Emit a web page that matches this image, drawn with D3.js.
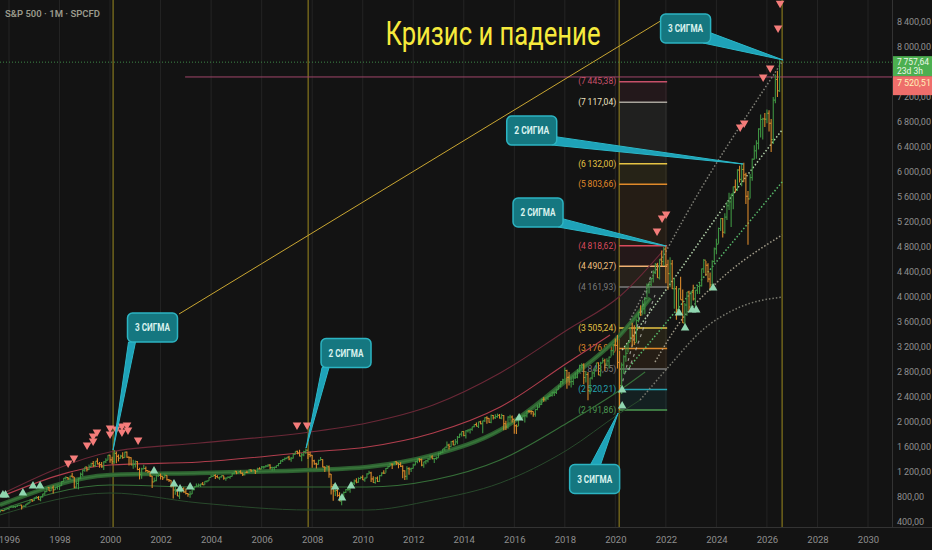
<!DOCTYPE html>
<html>
<head>
<meta charset="utf-8">
<script src="https://cdn.jsdelivr.net/npm/d3@7"></script>
<style>
  html, body { margin: 0; padding: 0; background: #131313; }
  svg { display: block; }
  text { font-family: Roboto, "Open Sans", sans-serif; }
</style>
</head>
<body>
<svg id="chart"></svg>
<script>
// ---- data ----
// monthly bars, first bar = Aug 1995
const startYear = 1995, startMonth = 7;
const firstOpen = 562;
const closes = [
  562,584,582,605,616,
  636,640,646,654,669,671,640,652,687,705,757,741,
  786,791,757,801,848,885,954,899,947,915,955,970,
  980,1049,1102,1112,1091,1134,1121,957,1017,1099,1164,1229,
  1280,1238,1286,1335,1302,1373,1329,1320,1283,1363,1389,1469,
  1394,1366,1499,1452,1421,1455,1431,1518,1437,1429,1315,1320,
  1366,1240,1160,1249,1256,1224,1211,1134,1041,1060,1139,1148,
  1130,1107,1147,1077,1067,990,912,916,815,886,936,880,
  856,841,848,917,964,975,990,1008,996,1051,1058,1112,
  1131,1145,1126,1107,1121,1141,1102,1104,1115,1130,1174,1212,
  1181,1204,1181,1157,1192,1191,1234,1220,1229,1207,1249,1248,
  1280,1281,1295,1311,1270,1270,1277,1304,1336,1378,1401,1418,
  1438,1407,1421,1482,1531,1503,1455,1474,1527,1549,1481,1468,
  1379,1331,1323,1386,1400,1280,1267,1283,1166,969,896,903,
  826,735,798,873,919,919,987,1021,1057,1036,1096,1115,
  1074,1104,1169,1187,1089,1031,1102,1049,1141,1183,1181,1258,
  1286,1327,1326,1364,1345,1321,1292,1219,1131,1253,1247,1258,
  1312,1366,1408,1398,1310,1362,1379,1407,1441,1412,1416,1426,
  1498,1515,1569,1598,1631,1606,1686,1633,1682,1757,1806,1848,
  1783,1859,1872,1884,1924,1960,1931,2003,1972,2018,2068,2059,
  1995,2105,2068,2086,2107,2063,2104,1972,1920,2079,2080,2044,
  1940,1932,2060,2065,2097,2099,2174,2171,2168,2126,2199,2239,
  2279,2364,2363,2384,2412,2423,2470,2472,2519,2575,2648,2674,
  2824,2714,2641,2648,2705,2718,2816,2902,2914,2712,2760,2507,
  2704,2784,2834,2946,2752,2942,2980,2926,2977,3038,3141,3231,
  3226,2954,2585,2912,3044,3100,3271,3500,3363,3270,3622,3756,
  3714,3811,3973,4181,4204,4298,4395,4523,4308,4605,4567,4766,
  4516,4374,4530,4132,4132,3785,4130,3955,3586,3872,4080,3840,
  4077,3970,4109,4169,4180,4450,4589,4508,4288,4194,4568,4770,
  4846,5096,5254,5036,5278,5460,5522,5648,5762,5705,6032,5882,
  6041,5955,5612,5569,5912,6205,6339,6460,6688,6840,6849,6845,
  6940,6780,6520,7150,7480,7300,7757.64
];
const highs = [
  565,587,588,607,622,
  637,664,660,660,674,673,677,670,690,714,762,762,
  794,818,815,805,851,898,957,961,960,983,959,986,
  992,1051,1106,1131,1121,1141,1190,1121,1066,1104,1193,1245,
  1280,1284,1321,1348,1377,1373,1419,1360,1361,1373,1419,1473,
  1478,1445,1553,1527,1481,1475,1517,1525,1530,1450,1438,1395,
  1384,1376,1268,1269,1316,1290,1226,1217,1135,1112,1160,1173,
  1177,1132,1173,1147,1090,1070,994,966,925,906,954,955,
  935,864,895,920,966,1015,1016,1012,1040,1053,1063,1112,
  1158,1160,1164,1150,1123,1147,1142,1110,1133,1142,1184,1217,
  1217,1212,1229,1192,1200,1220,1246,1245,1243,1233,1270,1275,
  1295,1297,1311,1326,1326,1284,1283,1306,1340,1389,1407,1431,
  1441,1461,1439,1499,1533,1540,1556,1503,1539,1576,1523,1524,
  1471,1396,1350,1397,1440,1405,1293,1314,1304,1167,1007,919,
  943,876,833,888,930,957,997,1040,1081,1102,1114,1130,
  1150,1112,1180,1220,1203,1132,1120,1129,1150,1196,1227,1263,
  1303,1344,1333,1370,1371,1346,1357,1307,1230,1293,1277,1268,
  1333,1378,1420,1422,1415,1363,1392,1426,1475,1470,1419,1448,
  1510,1530,1570,1598,1688,1654,1698,1709,1730,1775,1814,1849,
  1851,1868,1884,1897,1925,1968,1991,2005,2019,2019,2075,2094,
  2064,2119,2114,2126,2135,2130,2133,2113,2021,2094,2116,2104,
  2038,1963,2072,2111,2103,2121,2178,2194,2188,2169,2214,2278,
  2301,2371,2401,2398,2418,2454,2484,2491,2520,2582,2657,2694,
  2873,2835,2802,2718,2743,2791,2848,2916,2941,2940,2816,2800,
  2708,2813,2861,2949,2954,2964,3028,3014,3022,3050,3154,3248,
  3337,3393,3136,2954,3068,3233,3280,3515,3588,3550,3646,3760,
  3870,3950,3995,4218,4238,4302,4429,4546,4546,4608,4744,4808,
  4819,4595,4637,4594,4307,4178,4140,4325,4120,3905,4080,4101,
  4095,4195,4111,4170,4231,4458,4607,4575,4541,4393,4588,4793,
  4931,5111,5265,5263,5342,5523,5669,5651,5768,5879,6045,6100,
  6128,6147,5987,5696,5969,6215,6427,6508,6699,6920,6870,6945,
  7000,6990,6850,7200,7560,7620,7790
];
const lows = [
  556,558,573,580,598,
  597,633,626,624,645,658,600,639,650,681,703,719,
  737,773,755,733,793,836,883,898,897,855,912,921,
  912,978,1048,1077,1075,1074,1113,940,939,923,1087,1131,
  1205,1210,1234,1282,1281,1280,1320,1268,1268,1233,1344,1389,
  1350,1325,1332,1339,1369,1416,1411,1428,1427,1305,1310,1254,
  1274,1228,1081,1092,1245,1202,1183,1124,945,1041,1054,1124,
  1080,1074,1107,1063,1040,952,775,838,815,769,872,870,
  841,804,789,847,909,963,961,961,993,995,1031,1059,
  1116,1124,1088,1107,1076,1113,1078,1060,1104,1091,1127,1163,
  1163,1180,1176,1137,1146,1188,1183,1201,1205,1168,1202,1246,
  1245,1253,1277,1280,1245,1219,1224,1263,1290,1327,1360,1385,
  1403,1389,1364,1416,1480,1484,1451,1371,1452,1490,1407,1435,
  1270,1317,1257,1318,1384,1277,1201,1247,1107,840,741,818,
  804,735,667,783,866,892,869,978,993,1020,1029,1086,
  1071,1045,1106,1169,1040,1029,1011,1040,1040,1132,1173,1187,
  1257,1294,1249,1321,1312,1259,1282,1101,1074,1075,1158,1202,
  1258,1307,1341,1357,1291,1267,1325,1354,1397,1403,1344,1398,
  1426,1485,1501,1537,1582,1560,1604,1627,1633,1646,1746,1768,
  1771,1737,1834,1815,1860,1915,1931,1904,1964,1821,2001,1973,
  1988,1980,2040,2048,2068,2057,2044,1867,1872,1893,2019,1993,
  1812,1810,1937,2033,2026,1992,2074,2148,2120,2084,2084,2188,
  2234,2271,2323,2328,2353,2406,2407,2417,2447,2520,2557,2605,
  2683,2533,2585,2553,2594,2691,2699,2797,2864,2604,2631,2347,
  2444,2682,2722,2848,2750,2729,2945,2822,2892,2856,3050,3070,
  3214,2855,2192,2447,2767,2966,3115,3280,3209,3234,3280,3595,
  3695,3724,3723,3978,4056,4165,4233,4368,4306,4279,4495,4495,
  4222,4115,4157,4129,3811,3637,3721,3955,3585,3492,3699,3764,
  3795,3943,3809,4049,4048,4167,4385,4335,4238,4104,4187,4547,
  4683,4853,5057,4954,5012,5234,5391,5120,5403,5674,5697,5833,
  5773,5837,5489,4835,5578,5861,6201,6212,6360,6551,6521,6720,
  6780,6650,6320,6450,7100,7200,7280
];

// ticks (7 600 sits under the last-price label, so it is not shown)
const yearTicks = [1996,1998,2000,2002,2004,2006,2008,2010,2012,2014,2016,2018,2020,2022,2024,2026,2028,2030];
const priceTicks = [400,800,1200,1600,2000,2400,2800,3200,3600,4000,4400,4800,5200,5600,6000,6400,6800,7200,8000,8400];

// channel lines [year, price]
const bandUpper2 = [[1995.64,832],[2000.0,1520],[2003.56,1664],[2007.92,1840],[2010.17,1984],[2012.79,2272],[2015.44,2784],[2018.09,3472],[2020.19,4016],[2022.05,4816]];
const bandUpper1 = [[1995.64,800],[2000.0,1312],[2003.56,1360],[2007.92,1520],[2010.17,1600],[2012.79,1824],[2015.44,2240],[2018.09,2944],[2019.79,3392]];
const bandMean   = [[1995.64,672],[2000.0,1152],[2003.56,1184],[2007.92,1232],[2010.17,1280],[2012.79,1472],[2015.44,1872],[2018.09,2672],[2020.19,3392],[2021.38,3984]];
const bandLower1 = [[1995.64,592],[2000.0,992],[2003.56,960],[2007.92,960],[2010.17,960],[2012.79,1072],[2015.44,1392],[2018.09,1984],[2020.19,2512],[2021.18,2800]];
const bandLower2 = [[1995.64,512],[2000.0,864],[2003.56,704],[2007.92,592],[2010.17,592],[2012.79,752],[2015.44,1024],[2018.09,1552],[2020.19,2144],[2020.98,2352]];

// dotted projection lines after 2020
const projA = [[2020.58,3632],[2023.36,5712],[2025.61,7152],[2026.60,7760]];
const projB = [[2020.27,3152],[2022.48,4384],[2024.15,5360],[2026.60,6672]];
const projC = [[2020.39,2800],[2021.77,3472],[2026.60,5840]];
const projD = [[2021.57,2960],[2022.56,3600],[2023.83,4160],[2026.60,4992]];
const projE = [[2020.98,2352],[2022.17,2912],[2023.36,3440],[2024.94,3840],[2026.60,4000]];
const recoveryDash1 = [[2020.22,2544],[2021.45,4416]];
const recoveryDash2 = [[2020.53,2832],[2021.57,4032]];

// signals
const sellSignals = [[1998.34,1344],[1998.57,1424],[1999.09,1632],[1999.33,1776],[1999.33,1696],[1999.48,1840],
  [2000.00,1904],[2000.00,1808],[2000.24,1888],[2000.47,1936],[2000.47,1840],[2000.67,1952],[2000.71,1872],
  [2001.11,1712],[2007.40,1952],[2007.80,1952],[2021.65,5056],[2021.85,5264],[2022.01,5328],
  [2024.94,6720],[2025.10,6784],[2025.85,7520],[2026.13,7664],[2026.44,8304],[2026.52,8700]];
const buySignals = [[1995.76,832],[1995.86,832],[1996.55,864],[1996.95,976],[1997.23,976],[2001.74,1216],
  [2002.53,1008],[2002.77,928],[2003.17,960],[2008.91,960],[2009.18,784],[2009.54,976],[2016.19,2064],
  [2020.27,2512],[2020.27,2256],[2022.52,3744],[2022.76,3504],[2023.04,3792],[2023.20,3792],[2023.87,4144]];

// fib levels
const fibLevels = [2191.86,2520.21,2848.55,3176.91,3505.24,4161.93,4490.27,4818.62,5803.66,6132.00,7117.04,7445.38];
const fibColors = ["#4c9a52","#26a3b0","#7a7a7a","#e08a2a","#e6c445","#7c7c7c","#f0b072","#d84a5c","#e08a2a","#e6c445","#a8a49c","#c8506a"];
const fibLabelColors = ["#4c9a52","#26a3b0","#7a7a7a","#e08a2a","#e6c445","#7c7c7c","#f2c080","#d84a5c","#e08a2a","#e6c445","#efe2c0","#c8506a"];
const fibRange = [2020.15, 2022.05];

// drawings
const vLines = [2000.12, 2007.84, 2020.15, 2026.60];
const trendLine = [[2002.73,3728],[2021.85,8432]];
const levelLine = {from: 2002.97, price: 7520.51};
const lastPrice = 7757.64;

// callouts
const calloutTexts = ["3 СИГМА","2 СИГМА","3 СИГМА","2 СИГМА","2 СИГИА","3 СИГМА"];
const calloutBoxes = [[2001.68,3512],[2009.34,3104],[2019.18,1088],[2016.94,5352],[2016.69,6664],[2022.78,8296]];
const calloutTips  = [[2000.12,1552],[2007.76,1584],[2020.11,2144],[2022.01,4816],[2025.06,6128],[2026.64,7792]];
const calloutBase  = [[[0.02,1],[0.16,1]],[[0.02,1],[0.16,1]],[[0.42,0],[0.62,0]],[[1,0.72],[0.9,1]],[[1,0.72],[0.9,1]],[[1,0.65],[0.85,1]]];

// ---- chart ----
const W = 932, H = 550, plotR = 892, plotB = 527;
const svg = d3.select("#chart").attr("width", W).attr("height", H);
svg.append("rect").attr("width", W).attr("height", H).attr("fill", "#131313");

const x = d3.scaleLinear().domain([1996, 2030]).range([9, 868]);
const y = d3.scaleLinear().domain([400, 8400]).range([522, 22]);

svg.append("defs").append("clipPath").attr("id", "plot")
  .append("rect").attr("width", plotR).attr("height", plotB);

const g = svg.append("g").attr("clip-path", "url(#plot)");

// vertical grid
g.selectAll(".grid").data(yearTicks).join("line")
  .attr("x1", d => x(d)).attr("x2", d => x(d))
  .attr("y1", 0).attr("y2", plotB)
  .attr("stroke", "#242424").attr("stroke-width", 1);

// fib zone
const fx0 = x(fibRange[0]), fx1 = x(fibRange[1]);
for (let i = 0; i < fibLevels.length - 1; i++) {
  g.append("rect")
    .attr("x", fx0).attr("width", fx1 - fx0)
    .attr("y", y(fibLevels[i + 1])).attr("height", y(fibLevels[i]) - y(fibLevels[i + 1]))
    .attr("fill", fibColors[i + 1]).attr("opacity", 0.09);
}

// yellow vertical markers
g.selectAll(".vl").data(vLines).join("line")
  .attr("x1", d => x(d)).attr("x2", d => x(d))
  .attr("y1", 0).attr("y2", plotB)
  .attr("stroke", "#9c8a1f").attr("stroke-width", 1);

// last price dotted line + level line
g.append("line").attr("x1", 0).attr("x2", plotR)
  .attr("y1", y(lastPrice)).attr("y2", y(lastPrice))
  .attr("stroke", "#3f8a48").attr("stroke-dasharray", "1,2");
g.append("line").attr("x1", x(levelLine.from)).attr("x2", plotR)
  .attr("y1", y(levelLine.price)).attr("y2", y(levelLine.price))
  .attr("stroke", "#a0466a").attr("stroke-width", 1);

// fib lines and labels
const fmt = d3.formatLocale({decimal: ",", thousands: "\u2009", grouping: [3], currency: ["", ""]}).format(",.2f");
fibLevels.forEach((v, i) => {
  g.append("line").attr("x1", fx0).attr("x2", fx1)
    .attr("y1", y(v)).attr("y2", y(v))
    .attr("stroke", fibColors[i]).attr("stroke-width", 1.5);
  g.append("text").attr("x", fx0 - 3).attr("y", y(v)).attr("dy", "0.33em")
    .attr("text-anchor", "end").attr("font-size", 8.5)
    .attr("fill", fibLabelColors[i]).text("(" + fmt(v) + ")");
});

// channel lines
const line = d3.line().x(d => x(d[0])).y(d => y(d[1])).curve(d3.curveMonotoneX);
const drawPath = (data, color, width, dash, op) => g.append("path").attr("d", line(data))
  .attr("fill", "none").attr("stroke", color).attr("stroke-width", width)
  .attr("stroke-dasharray", dash || null).attr("opacity", op || 1);

drawPath(bandLower2, "#28492b", 1);
drawPath(bandLower1, "#366f39", 1.1);
drawPath(bandUpper2, "#6a2837", 1.1);
drawPath(bandUpper1, "#b03e4d", 1.1);
drawPath(bandMean, "#2e6431", 4.5, null, 0.95);
drawPath(bandMean, "#3f8441", 1.5, null, 0.6);

drawPath(projE, "#7a7a70", 1.5, "1.5,2");
drawPath(projD, "#a09a88", 1.5, "1.5,2");
drawPath(projC, "#58b86a", 1.5, "1.5,2");
drawPath(projB, "#b4d4ac", 1.5, "1.5,2");
drawPath(projA, "#808078", 1.5, "1.5,2");
drawPath(recoveryDash1, "#c8c8c0", 1.2, "3,4", 0.7);
drawPath(recoveryDash2, "#c8c8c0", 1.2, "3,4", 0.7);

// trend line
g.append("path").attr("d", d3.line().x(d => x(d[0])).y(d => y(d[1]))(trendLine))
  .attr("fill", "none").attr("stroke", "#c9a632").attr("stroke-width", 1);

// bars
const bars = closes.map((c, i) => ({
  t: startYear + (startMonth + i) / 12,
  o: i ? closes[i - 1] : firstOpen, h: highs[i], l: lows[i], c
}));
const barG = g.append("g");
bars.forEach(b => {
  const col = b.c >= b.o ? "#3f9443" : "#d9892b";
  const bx = x(b.t);
  barG.append("line").attr("x1", bx).attr("x2", bx).attr("y1", y(b.h)).attr("y2", y(b.l))
    .attr("stroke", col).attr("stroke-width", 1.1);
  barG.append("line").attr("x1", bx - 1.3).attr("x2", bx).attr("y1", y(b.o)).attr("y2", y(b.o))
    .attr("stroke", col).attr("stroke-width", 1);
  barG.append("line").attr("x1", bx).attr("x2", bx + 1.3).attr("y1", y(b.c)).attr("y2", y(b.c))
    .attr("stroke", col).attr("stroke-width", 1);
});

// signals
const tri = d3.symbol(d3.symbolTriangle, 32);
g.selectAll(".sell").data(sellSignals).join("path")
  .attr("d", tri).attr("fill", "#f47c7a")
  .attr("transform", d => `translate(${x(d[0])},${y(d[1])}) rotate(180)`);
g.selectAll(".buy").data(buySignals).join("path")
  .attr("d", tri).attr("fill", "#8fd6b0")
  .attr("transform", d => `translate(${x(d[0])},${y(d[1])})`);

// title
svg.append("text").attr("x", 5).attr("y", 17).attr("font-size", 9.5).attr("font-weight", 600)
  .attr("fill", "#9a9a8c").text("S&P 500 · 1M · SPCFD");
svg.append("text").attr("x", 493).attr("y", 45).attr("text-anchor", "middle")
  .attr("font-family", "'Open Sans', sans-serif").attr("font-size", 33)
  .attr("textLength", 215).attr("lengthAdjust", "spacingAndGlyphs")
  .attr("fill", "#f6ea3c").text("Кризис и падение");

// callouts
const bw = 50, bh = 29;
calloutTexts.forEach((txt, i) => {
  const cx = x(calloutBoxes[i][0]), cy = y(calloutBoxes[i][1]);
  const bx0 = cx - bw / 2, by0 = cy - bh / 2;
  const tip = [x(calloutTips[i][0]), y(calloutTips[i][1])];
  const b1 = [bx0 + calloutBase[i][0][0] * bw, by0 + calloutBase[i][0][1] * bh];
  const b2 = [bx0 + calloutBase[i][1][0] * bw, by0 + calloutBase[i][1][1] * bh];
  svg.append("path").attr("d", `M${b1[0]},${b1[1]} L${tip[0]},${tip[1]} L${b2[0]},${b2[1]} Z`)
    .attr("fill", "#1ea2b8").attr("stroke", "#2bb8c8").attr("stroke-width", 1);
  svg.append("rect").attr("x", bx0).attr("y", by0).attr("width", bw).attr("height", bh)
    .attr("rx", 5).attr("fill", "#157780").attr("stroke", "#2cb4c2").attr("stroke-width", 1.5);
  svg.append("text").attr("x", cx).attr("y", cy).attr("dy", "0.36em")
    .attr("text-anchor", "middle").attr("font-size", 10).attr("font-weight", 700)
    .attr("textLength", 35).attr("lengthAdjust", "spacingAndGlyphs")
    .attr("fill", "#d9f2ee").text(txt);
});

// axes
svg.append("line").attr("x1", plotR + 0.5).attr("x2", plotR + 0.5).attr("y1", 0).attr("y2", plotB)
  .attr("stroke", "#333");
svg.append("line").attr("x1", 0).attr("x2", W).attr("y1", plotB + 0.5).attr("y2", plotB + 0.5)
  .attr("stroke", "#333");

const xAxis = svg.append("g").attr("transform", `translate(0,${plotB})`)
  .call(d3.axisBottom(x).tickValues(yearTicks).tickFormat(d3.format("d")).tickSize(0).tickPadding(9));
xAxis.select(".domain").remove();
xAxis.selectAll("text").attr("fill", "#8f8f8f").attr("font-size", 9.5).attr("font-family", "Roboto, sans-serif");

const yAxis = svg.append("g").attr("transform", `translate(${plotR},0)`)
  .call(d3.axisRight(y).tickValues(priceTicks).tickFormat(fmt).tickSize(0).tickPadding(5));
yAxis.select(".domain").remove();
yAxis.selectAll("text").attr("fill", "#8f8f8f").attr("font-size", 9).attr("font-family", "Roboto, sans-serif");

// price labels on axis
const lp = y(lastPrice);
svg.append("rect").attr("x", plotR + 1).attr("y", lp - 6).attr("width", W - plotR - 1).attr("height", 20)
  .attr("fill", "#4caf50");
svg.append("text").attr("x", plotR + 5).attr("y", lp + 2.5).attr("font-size", 8.5).attr("fill", "#eaf7e6").text(fmt(lastPrice));
svg.append("text").attr("x", plotR + 5).attr("y", lp + 11.5).attr("font-size", 8.5).attr("fill", "#eaf7e6").text("23d 3h");
const lv = y(levelLine.price);
svg.append("rect").attr("x", plotR + 1).attr("y", lp + 14).attr("width", W - plotR - 1).attr("height", 19)
  .attr("fill", "#ee6e6b");
svg.append("text").attr("x", plotR + 5).attr("y", lv + 9).attr("font-size", 9).attr("fill", "#fff1b8").text(fmt(levelLine.price));
</script>
</body>
</html>
